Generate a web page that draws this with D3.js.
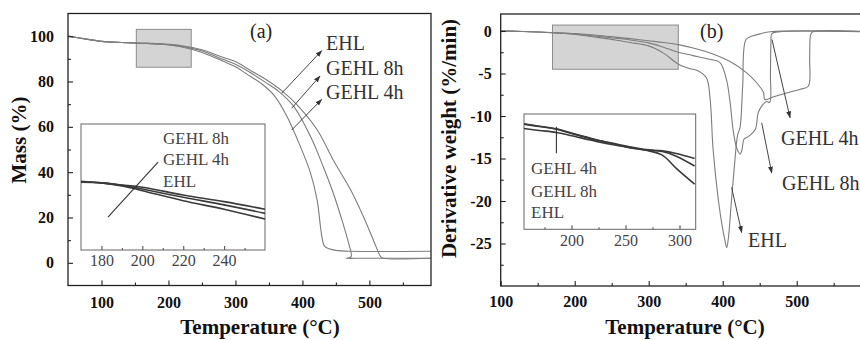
<!DOCTYPE html>
<html>
<head>
<meta charset="utf-8">
<script src="https://cdn.jsdelivr.net/npm/d3@7/dist/d3.min.js"></script>
<style>
  body { margin: 0; background: #fff; }
  svg { display: block; }
  text { font-family: "Liberation Serif", "Times New Roman", serif; }
</style>
</head>
<body>
<svg id="chart" width="860" height="340"></svg>
<script>
// ---------- data: (a) mass loss, three samples ----------
const tgaTempEHL = [50, 75, 100, 130, 160, 190, 220, 250, 280, 300, 322, 345, 369, 391, 422, 446, 472, 491, 506, 513, 517, 521, 592];
const tgaMassEHL = [100, 98.8, 97.7, 97.2, 96.9, 96.6, 95.8, 94.0, 90.8, 88.8, 85.0, 81.0, 76.0, 70.0, 58.7, 45.4, 32.2, 20.4, 10.0, 5.0, 2.6, 2.0, 2.0];
const tgaTemp8h = [50, 75, 100, 130, 160, 190, 220, 250, 280, 300, 322, 345, 365, 387, 412, 431, 446, 459, 469, 473, 470, 465, 480, 592];
const tgaMass8h = [100, 98.8, 97.7, 97.2, 96.9, 96.5, 95.5, 93.5, 89.9, 87.6, 84.0, 79.6, 75.5, 69.0, 55.8, 42.5, 30.8, 18.9, 8.7, 3.0, 2.2, 2.0, 2.0, 2.0];
const tgaTemp4h = [50, 75, 100, 130, 160, 190, 220, 250, 280, 300, 322, 340, 358, 377, 397, 412, 422, 427, 430, 433, 440, 450, 470, 592];
const tgaMass4h = [100, 98.8, 97.7, 97.2, 96.9, 96.4, 95.2, 92.8, 89.2, 86.5, 82.3, 78.8, 73.8, 64.6, 51.3, 39.7, 27.7, 15.9, 10.0, 7.4, 6.2, 5.5, 5.1, 5.1];

// inset of (a): 170-260 degC
const insetATemp = [170, 180, 190, 200, 220, 240, 260];
const insetAMass1 = [94.50, 94.43, 94.34, 94.24, 93.90, 93.61, 93.28];
const insetAMass2 = [94.48, 94.43, 94.32, 94.16, 93.80, 93.47, 93.10];
const insetAMass3 = [94.46, 94.43, 94.30, 94.09, 93.65, 93.28, 92.85];

// ---------- data: (b) derivative weight ----------
const dtgTempE = [100, 130, 170, 200, 230, 255, 275, 300, 320, 340, 355, 367, 378, 383, 387, 394, 400, 403, 405.4, 407.5, 412, 416.6, 420, 423.5, 427, 431.5, 440, 452, 464, 600];
const dtgValE = [0, -0.05, -0.2, -0.4, -0.75, -1.05, -1.35, -1.75, -2.6, -3.9, -4.4, -4.7, -5.5, -8.0, -13.9, -19.8, -23.3, -24.6, -25.5, -24.5, -19.8, -15.1, -12.3, -11.3, -6.5, -1.0, -0.6, -0.3, -0.08, -0.08];
const dtgTempM = [100, 130, 170, 200, 230, 255, 275, 300, 320, 340, 360, 380, 396, 405, 410, 414, 418, 421, 423.6, 426, 429, 435, 444, 448, 453, 459, 463.5, 464.5, 465.2, 466.5, 475, 600];
const dtgValM = [0, -0.05, -0.2, -0.35, -0.6, -0.85, -1.05, -1.4, -1.9, -2.5, -2.9, -3.3, -3.7, -5.7, -8.4, -11.6, -13.5, -14.2, -14.5, -14.0, -12.7, -12.4, -11.6, -9.6, -8.8, -8.3, -8.4, -5.0, -1.5, -0.3, -0.1, -0.1];
const dtgTempW = [100, 130, 170, 200, 230, 255, 275, 300, 320, 340, 360, 387, 410, 432, 445, 455, 457, 470, 490, 505, 515.7, 517.5, 519, 522, 600];
const dtgValW = [0, -0.05, -0.18, -0.3, -0.5, -0.72, -0.9, -1.15, -1.35, -1.6, -2.0, -2.7, -3.6, -4.9, -6.0, -7.2, -8.05, -7.7, -7.2, -6.85, -6.5, -3.0, -0.4, -0.1, -0.1];

// inset of (b): 156-315 degC
const insetBTemp = [156, 170, 186, 200, 223, 240, 255, 269, 284, 297, 314];
const insetBVal1 = [0.20, 0.13, 0.05, -0.08, -0.28, -0.40, -0.50, -0.58, -0.62, -0.70, -0.85];
const insetBVal2 = [0.06, 0.00, -0.06, -0.16, -0.33, -0.44, -0.52, -0.59, -0.64, -0.78, -1.08];
const insetBVal3 = [0.19, 0.12, 0.04, -0.09, -0.29, -0.41, -0.53, -0.60, -0.75, -1.15, -1.63];

// ---------- tick values and labels ----------
const xTicksMain = [100, 200, 300, 400, 500];
const xMinorMain = [150, 250, 350, 450, 550];
const yTicksA = [0, 20, 40, 60, 80, 100];
const yMinorA = [10, 30, 50, 70, 90];
const yTicksB = [0, -5, -10, -15, -20, -25];
const yMinorB = [-2.5, -7.5, -12.5, -17.5, -22.5, -27.5];
const xTicksInsetA = [180, 200, 220, 240];
const xMinorInsetA = [190, 210, 230, 250];
const xTicksInsetB = [200, 250, 300];
const xMinorInsetB = [175, 225, 275];
const seriesLabels = ['EHL', 'GEHL 8h', 'GEHL 4h'];

const svg = d3.select('#chart');
const FONT = '"Liberation Serif", "Times New Roman", serif';

// scales
const xA = d3.scaleLinear().domain([50, 592]).range([68, 431]);
const yA = d3.scaleLinear().domain([-10, 110]).range([285.5, 13.5]);
const xB = d3.scaleLinear().domain([100, 600]).range([500.7, 870.7]);
const yB = d3.scaleLinear().domain([-30, 2]).range([286, 14]);
const xAi = d3.scaleLinear().domain([170, 260]).range([81, 265]);
const yAi = d3.scaleLinear().domain([91.5, 97]).range([250, 124]);
const xBi = d3.scaleLinear().domain([156, 315]).range([524, 695.7]);
const yBi = d3.scaleLinear().domain([-3, 0.5]).range([229.3, 114]);

// arrow head
svg.append('defs').append('marker')
  .attr('id', 'arrow')
  .attr('viewBox', '0 0 10 10')
  .attr('refX', 9).attr('refY', 5)
  .attr('markerUnits', 'userSpaceOnUse')
  .attr('markerWidth', 7).attr('markerHeight', 7)
  .attr('orient', 'auto')
  .append('path')
  .attr('d', 'M0,1.5L10,5L0,8.5Z')
  .attr('fill', '#333');

/**
 * Inward ticks (Origin style): major with labels, minor without
 */
function drawAxis(orient, scale, pos, major, minor, opts) {
  const make = orient === 'bottom' ? d3.axisBottom : d3.axisLeft;
  const tr = orient === 'bottom' ? `translate(0,${pos})` : `translate(${pos},0)`;
  const g = svg.append('g').attr('transform', tr);

  g.append('g').call(make(scale).tickValues(minor).tickSize(-opts.minorLen).tickFormat(''));
  g.append('g').call(make(scale).tickValues(major).tickSize(-opts.majorLen)
    .tickPadding(opts.pad).tickFormat(d => String(d)));

  g.selectAll('.domain').remove();
  g.selectAll('line').attr('stroke', opts.color).attr('stroke-width', 1.1);
  g.selectAll('g').attr('font-family', FONT);
  g.selectAll('text')
    .attr('font-size', opts.size)
    .attr('font-weight', opts.weight)
    .attr('fill', opts.textColor);
  return g;
}

function drawLine(xs, ys, xScale, yScale, color, width) {
  const line = d3.line()
    .x(d => xScale(d[0]))
    .y(d => yScale(d[1]))
    .curve(d3.curveCatmullRom.alpha(0.5));
  svg.append('path')
    .datum(d3.zip(xs, ys))
    .attr('d', line)
    .attr('fill', 'none')
    .attr('stroke', color)
    .attr('stroke-width', width)
    .attr('stroke-linejoin', 'round');
}

function arrow(x1, y1, x2, y2) {
  svg.append('line')
    .attr('x1', x1).attr('y1', y1).attr('x2', x2).attr('y2', y2)
    .attr('stroke', '#444').attr('stroke-width', 1)
    .attr('marker-end', 'url(#arrow)');
}

function label(x, y, txt, size, opts = {}) {
  svg.append('text')
    .attr('x', x).attr('y', y)
    .attr('font-size', size)
    .attr('font-weight', opts.weight || 'normal')
    .attr('text-anchor', opts.anchor || 'start')
    .attr('fill', opts.fill || '#222')
    .attr('transform', opts.rotate ? `rotate(-90,${x},${y})` : null)
    .text(txt);
}

const MAIN = { majorLen: 5, minorLen: 3, size: 16, weight: 'bold', color: '#222', textColor: '#111' };
const INSET = { majorLen: 4, minorLen: 2, size: 16, weight: 'normal', color: '#555', textColor: '#444' };
const CURVE = '#7d7d7d';
const INSET_CURVE = '#3a3a3a';

// ================= panel (a) =================
// zoom window
svg.append('rect')
  .attr('x', xA(152)).attr('y', yA(103))
  .attr('width', xA(234) - xA(152)).attr('height', yA(86.3) - yA(103))
  .attr('fill', '#d4d4d4').attr('stroke', '#8c8c8c').attr('stroke-width', 1);

drawLine(tgaTempEHL, tgaMassEHL, xA, yA, CURVE, 1.1);
drawLine(tgaTemp8h, tgaMass8h, xA, yA, CURVE, 1.1);
drawLine(tgaTemp4h, tgaMass4h, xA, yA, CURVE, 1.1);

svg.append('rect')
  .attr('x', xA.range()[0]).attr('y', yA.range()[1])
  .attr('width', xA.range()[1] - xA.range()[0]).attr('height', yA.range()[0] - yA.range()[1])
  .attr('fill', 'none').attr('stroke', '#222').attr('stroke-width', 1.3);

drawAxis('bottom', xA, yA.range()[0], xTicksMain, xMinorMain, { ...MAIN, pad: 11 });
drawAxis('left', yA, xA.range()[0], yTicksA, yMinorA, { ...MAIN, pad: 14 });

// inset (a)
svg.append('rect')
  .attr('x', xAi.range()[0]).attr('y', yAi.range()[1])
  .attr('width', xAi.range()[1] - xAi.range()[0]).attr('height', yAi.range()[0] - yAi.range()[1])
  .attr('fill', '#fff').attr('stroke', '#666').attr('stroke-width', 1);
drawLine(insetATemp, insetAMass1, xAi, yAi, INSET_CURVE, 1.6);
drawLine(insetATemp, insetAMass2, xAi, yAi, INSET_CURVE, 1.6);
drawLine(insetATemp, insetAMass3, xAi, yAi, INSET_CURVE, 1.6);
drawAxis('bottom', xAi, yAi.range()[0], xTicksInsetA, xMinorInsetA, { ...INSET, pad: 5 });
svg.append('line')
  .attr('x1', xAi(183.2)).attr('y1', yAi(92.94))
  .attr('x2', xAi(207.7)).attr('y2', yAi(95.34))
  .attr('stroke', '#333').attr('stroke-width', 1.1);
label(163, 144, seriesLabels[1], 17, { fill: '#444' });
label(163, 165, seriesLabels[2], 17, { fill: '#444' });
label(163, 186.5, seriesLabels[0], 17, { fill: '#444' });

// annotations (a)
arrow(xA(369), yA(74.8), xA(428.8), yA(93.6));
arrow(xA(384), yA(68.2), xA(426.3), yA(82.4));
arrow(xA(384), yA(58.6), xA(428.8), yA(72.1));
label(326, 50, seriesLabels[0], 20, { fill: '#333' });
label(326, 75, seriesLabels[1], 20, { fill: '#333' });
label(326, 99, seriesLabels[2], 20, { fill: '#333' });
label(250, 38, '(a)', 20, { fill: '#222' });

label(260, 334, 'Temperature (°C)', 21, { weight: 'bold', anchor: 'middle', fill: '#111' });
label(26, 140, 'Mass (%)', 21, { weight: 'bold', anchor: 'middle', fill: '#111', rotate: true });

// ================= panel (b) =================
svg.append('rect')
  .attr('x', xB(170)).attr('y', yB(0.7))
  .attr('width', xB(340) - xB(170)).attr('height', yB(-4.5) - yB(0.7))
  .attr('fill', '#d4d4d4').attr('stroke', '#8c8c8c').attr('stroke-width', 1);

drawLine(dtgTempW, dtgValW, xB, yB, CURVE, 1.1);
drawLine(dtgTempM, dtgValM, xB, yB, CURVE, 1.1);
drawLine(dtgTempE, dtgValE, xB, yB, CURVE, 1.1);

svg.append('rect')
  .attr('x', xB.range()[0]).attr('y', yB.range()[1])
  .attr('width', xB.range()[1] - xB.range()[0]).attr('height', yB.range()[0] - yB.range()[1])
  .attr('fill', 'none').attr('stroke', '#222').attr('stroke-width', 1.3);

drawAxis('bottom', xB, yB.range()[0], xTicksMain, xMinorMain, { ...MAIN, pad: 9.5 });
drawAxis('left', yB, xB.range()[0], yTicksB, yMinorB, { ...MAIN, pad: 9 });

// inset (b)
svg.append('rect')
  .attr('x', xBi.range()[0]).attr('y', yBi.range()[1])
  .attr('width', xBi.range()[1] - xBi.range()[0]).attr('height', yBi.range()[0] - yBi.range()[1])
  .attr('fill', '#fff').attr('stroke', '#666').attr('stroke-width', 1);
drawLine(insetBTemp, insetBVal1, xBi, yBi, INSET_CURVE, 1.6);
drawLine(insetBTemp, insetBVal2, xBi, yBi, INSET_CURVE, 1.6);
drawLine(insetBTemp, insetBVal3, xBi, yBi, INSET_CURVE, 1.6);
drawAxis('bottom', xBi, yBi.range()[0], xTicksInsetB, xMinorInsetB, { ...INSET, pad: 5 });
svg.append('line')
  .attr('x1', xBi(186)).attr('y1', yBi(0.11))
  .attr('x2', xBi(186)).attr('y2', yBi(-0.69))
  .attr('stroke', '#333').attr('stroke-width', 1.1);
label(531, 174, seriesLabels[2], 17, { fill: '#444' });
label(531, 196.5, seriesLabels[1], 17, { fill: '#444' });
label(531, 217.5, seriesLabels[0], 17, { fill: '#444' });

// annotations (b)
arrow(xB(466.6), yB(-1.0), xB(491), yB(-10.2));
arrow(xB(452.7), yB(-10.8), xB(466.2), yB(-16.7));
arrow(xB(412), yB(-18.4), xB(425.7), yB(-23.7));
label(781, 145, seriesLabels[2], 20, { fill: '#333' });
label(782, 190, seriesLabels[1], 20, { fill: '#333' });
label(748, 247, seriesLabels[0], 20, { fill: '#333' });
label(700, 38, '(b)', 20, { fill: '#222' });

label(685, 334, 'Temperature (°C)', 21, { weight: 'bold', anchor: 'middle', fill: '#111' });
label(456, 138.5, 'Derivative weight (%/min)', 21, { weight: 'bold', anchor: 'middle', fill: '#111', rotate: true });
</script>
</body>
</html>
